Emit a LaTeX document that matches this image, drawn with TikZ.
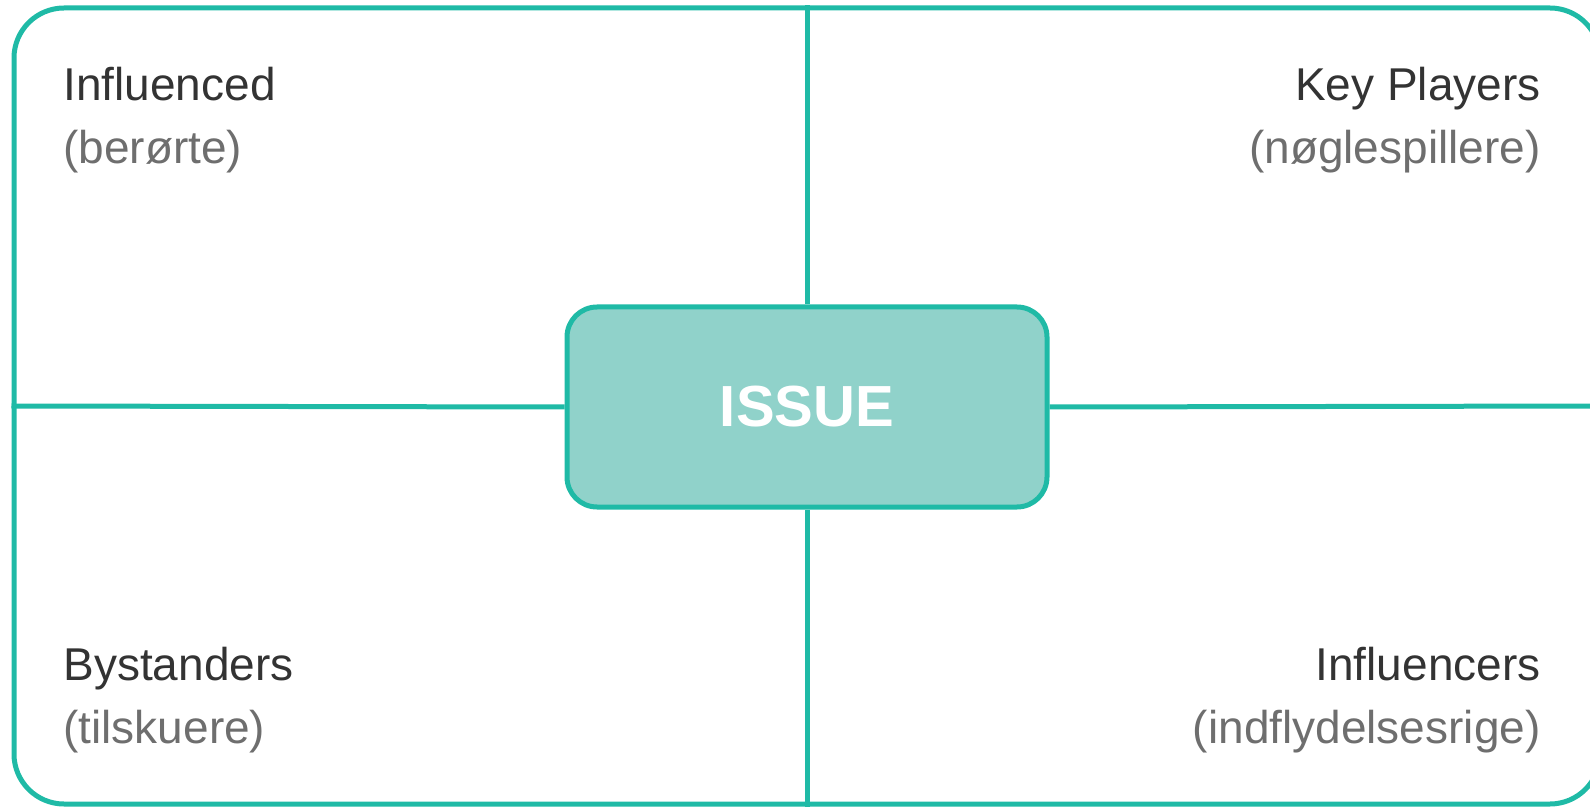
\documentclass[tikz,border=0pt]{standalone}
\usepackage{fontspec}
\setmainfont{Liberation Sans}
\definecolor{teal1}{HTML}{1FBAA6}
\definecolor{tealfill}{HTML}{90D2CA}
\definecolor{darktext}{HTML}{333333}
\definecolor{graytext}{HTML}{6E6E6E}
\tikzset{
  frame/.style={draw=teal1, line width=2.5pt, rounded corners=25pt, inner sep=0pt,
    minimum width=793pt, minimum height=398pt},
  issuebox/.style={draw=teal1, fill=tealfill, line width=2.5pt, rounded corners=15pt,
    inner sep=0pt, minimum width=240pt, minimum height=100pt, text=white,
    font=\fontsize{29}{34}\selectfont\bfseries},
  divider/.style={draw=teal1, line width=2.5pt},
  titletext/.style={inner sep=0pt, text=darktext, font=\fontsize{23}{27}\selectfont},
  subtext/.style={inner sep=0pt, text=graytext, font=\fontsize{23}{27}\selectfont},
}
\begin{document}
\begin{tikzpicture}[x=0.5pt, y=-0.5pt]
\useasboundingbox (0,0) rectangle (1590,807);
\node[frame] (frame) at (807,406) {};
\node[issuebox] (issue) at (807,407) {ISSUE};
\draw[divider] (frame.north) -- (issue.north);
\draw[divider] (issue.south) -- (frame.south);
\draw[divider] (frame.west) -- (issue.west);
\draw[divider] (issue.east) -- (frame.east);
\node[titletext, anchor=base west] (infl) at (63,101) {Influenced};
\node[subtext, anchor=base west] (inflsub) at (63,164) {(berørte)};
\node[titletext, anchor=base east] (key) at (1541,101) {Key Players};
\node[subtext, anchor=base east] (keysub) at (1541,164) {(nøglespillere)};
\node[titletext, anchor=base west] (by) at (63,680) {Bystanders};
\node[subtext, anchor=base west] (bysub) at (63,743) {(tilskuere)};
\node[titletext, anchor=base east] (infs) at (1541,680) {Influencers};
\node[subtext, anchor=base east] (infssub) at (1541,743) {(indflydelsesrige)};
\end{tikzpicture}
\end{document}
